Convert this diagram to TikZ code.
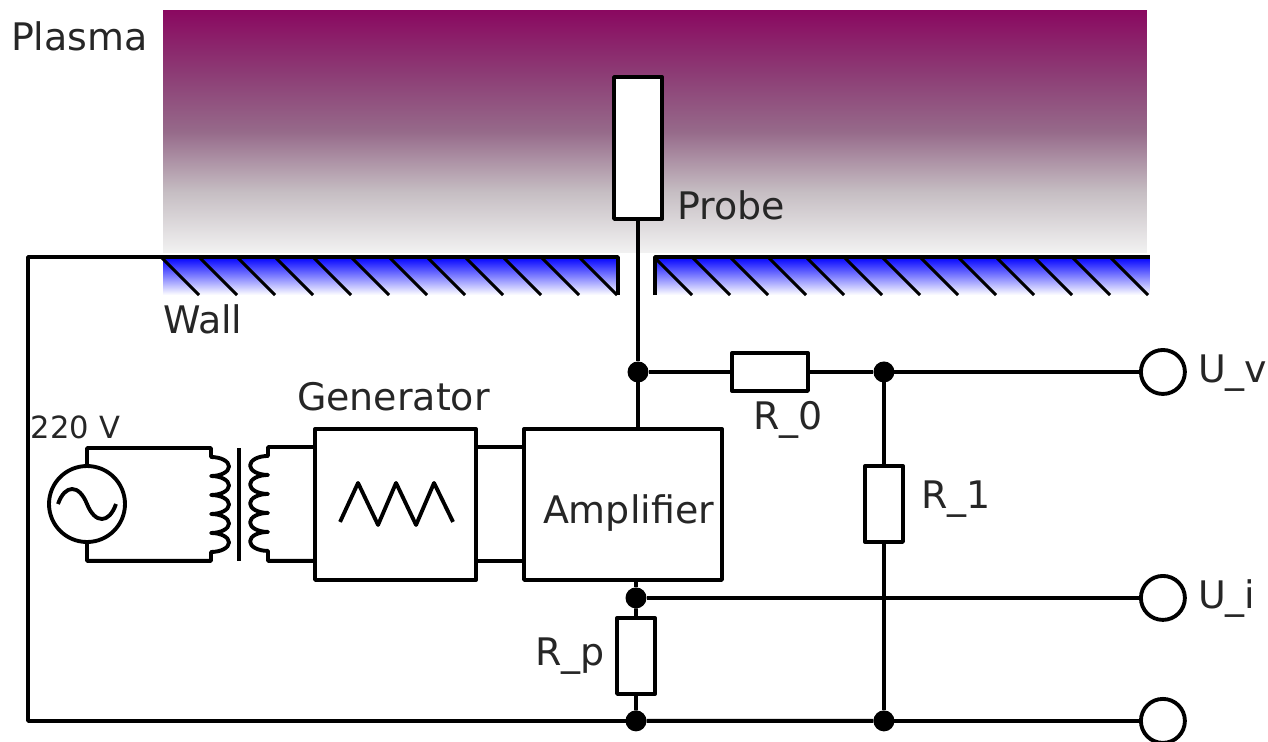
\documentclass[tikz,border=0pt]{standalone}
\usepackage{fontspec}
\setmainfont{DejaVu Sans}
\usetikzlibrary{positioning}
\definecolor{plasmaTop}{RGB}{138,8,96}
\definecolor{plasmaUp}{RGB}{140,58,116}
\definecolor{plasmaMid}{RGB}{150,106,138}
\definecolor{plasmaGrey}{RGB}{198,190,195}
\definecolor{plasmaLow}{RGB}{242,242,242}
\pgfdeclareverticalshading{plasmaFade}{100bp}{color(0bp)=(plasmaLow); color(25bp)=(plasmaLow); color(37.5bp)=(plasmaGrey); color(50bp)=(plasmaMid); color(62.5bp)=(plasmaUp); color(75bp)=(plasmaTop); color(100bp)=(plasmaTop)}

\begin{document}
\begin{tikzpicture}[x=.02cm, y=-.02cm, line width=2.2pt, line join=round,
	lbl/.style={inner sep=0pt, outer sep=0pt, text=black!85, font=\fontsize{21.6}{24}\selectfont},
	box/.style={draw, inner sep=0pt, outer sep=0pt, fill=white},
	resH/.style={box, minimum width=15.2mm, minimum height=7.6mm},
	resV/.style={box, minimum width=7.6mm, minimum height=15.2mm},
	dot/.style={circle, fill=black, inner sep=0pt, outer sep=0pt, minimum size=4.2mm},
	terminal/.style={circle, draw, fill=white, inner sep=0pt, outer sep=0pt, minimum size=8.8mm},
	wall/.style={inner sep=0pt, outer sep=0pt, minimum height=7.6mm, top color=blue, middle color=blue!80!white, bottom color=white},
	hatch/.style={line width=1.7pt}]
	\useasboundingbox (0,0) rectangle (1268,741);

	% plasma and wall
	\node[inner sep=0pt, outer sep=0pt, minimum width=196.8mm, minimum height=48.6mm, shading=plasmaFade] (plasma) at (655,131.5) {};
	\node[wall, minimum width=91mm] (wallL) at (390.5,276) {};
	\node[wall, minimum width=99mm] (wallR) at (902.5,276) {};
	\foreach \x in {162,200,...,580} \draw[hatch] (\x,258) -- ++(37,37);
	\foreach \x in {655,693,...,1112} \draw[hatch] (\x,258) -- ++(37,37);
	\draw (wallL.south east) -- (wallL.north east) -- (wallL.north west);
	\draw (wallR.south west) -- (wallR.north west) -- (wallR.north east);

	% probe branch
	\node[box, minimum width=9.6mm, minimum height=28.4mm] (probe) at (638,148) {};
	\node[dot, below=28.5mm of probe] (dot1) {};
	\node[box, below=9.3mm of dot1, xshift=-3mm, minimum width=39.6mm, minimum height=30.2mm] (amp) {};
	\node[box, left=9.6mm of amp, minimum width=32.2mm, minimum height=30.2mm] (gen) {};
	\node[resH, right=16.7mm of dot1] (R0) {};
	\node[dot, right=13.1mm of R0] (dot2) {};
	\node[terminal, right=49.3mm of dot2] (Uv) {};
	\node[resV, below=16.7mm of dot2] (R1) {};
	\node[dot, below=33.7mm of R1] (dot3) {};
	\node[terminal, right=49.3mm of dot3] (Uo) {};
	\node[dot, below=1.5mm of amp, xshift=2.6mm] (dot4) {};
	\node[terminal, right=98.9mm of dot4] (Ui) {};
	\node[resV, below=1.9mm of dot4] (Rp) {};
	\node[dot, below=3.3mm of Rp] (dot5) {};
	\coordinate (corner) at ([xshift=-27mm]wallL.north west);

	\draw (probe) -- (dot1) -- (dot1 |- amp.north);
	\draw (dot1) -- (R0) -- (dot2) -- (Uv);
	\draw (dot2) -- (R1) -- (dot3) -- (Uo);
	\draw (dot4 |- amp.south) -- (dot4) -- (Ui);
	\draw (dot4) -- (Rp) -- (dot5) -- (dot3);
	\draw (wallL.north west) -- (corner) |- (dot5);

	% generator side
	\node[circle, draw, inner sep=0pt, outer sep=0pt, minimum size=15.2mm] (ac) at (87,504) {};
	\draw[shift={(ac.center)}] (-29,0) .. controls (-22,-20) and (-8,-20) .. (0,0) .. controls (8,20) and (22,20) .. (29,0);
	\coordinate (pri) at (211,448);
	\coordinate (coreT) at (239,448);
	\coordinate (coreB) at (239,561);
	\coordinate (genT) at ([yshift=-3.6mm]gen.north west);
	\coordinate (genB) at ([yshift=3.8mm]gen.south west);
	\draw (ac.north) |- (pri) -- ++(0,9) \foreach \i in {1,...,5} {arc[start angle=90, end angle=-90, x radius=3.6mm, y radius=1.9mm]} |- (genB -| ac.south) -- (ac.south);
	\draw (coreT) -- (coreB);
	\draw (genT) -- ++(-47,0) -- ++(0,9) \foreach \i in {1,...,5} {arc[start angle=90, end angle=270, x radius=3.6mm, y radius=1.9mm]} |- (genB);
	\draw ([yshift=-3.6mm]gen.north east) -- ([yshift=-3.6mm]amp.north west);
	\draw ([yshift=3.8mm]gen.south east) -- ([yshift=3.8mm]amp.south west);
	\draw[shift={(gen.center)}] (-55.5,17.5) -- (-37.5,-21.5) -- (-17.5,20.5) -- (.5,-21.5) -- (20.5,20.5) -- (38.5,-21.5) -- (57.5,17.5);

	% labels
	\node[lbl, anchor=base west] (lplasma) at (11,50) {Plasma};
	\node[lbl, anchor=base west] (lprobe) at (677,219) {Probe};
	\node[lbl, anchor=base west] (lwall) at (163,333) {Wall};
	\node[lbl, anchor=base west] (lgen) at (297,410) {Generator};
	\node[lbl, anchor=base west, font=\fontsize{17.4}{20}\selectfont] (lvolt) at (31,438) {220 V};
	\node[lbl, xshift=1.1mm, yshift=-1.7mm] (lamp) at (amp) {Amplifier};
	\node[lbl, anchor=base west] (lR0) at (753,429) {R\_0};
	\node[lbl, anchor=base west] (lR1) at (921,508) {R\_1};
	\node[lbl, anchor=base west] (lRp) at (535,665) {R\_p};
	\node[lbl, anchor=base west] (lUv) at (1198,382) {U\_v};
	\node[lbl, anchor=base west] (lUi) at (1198,608) {U\_i};
\end{tikzpicture}
\end{document}
